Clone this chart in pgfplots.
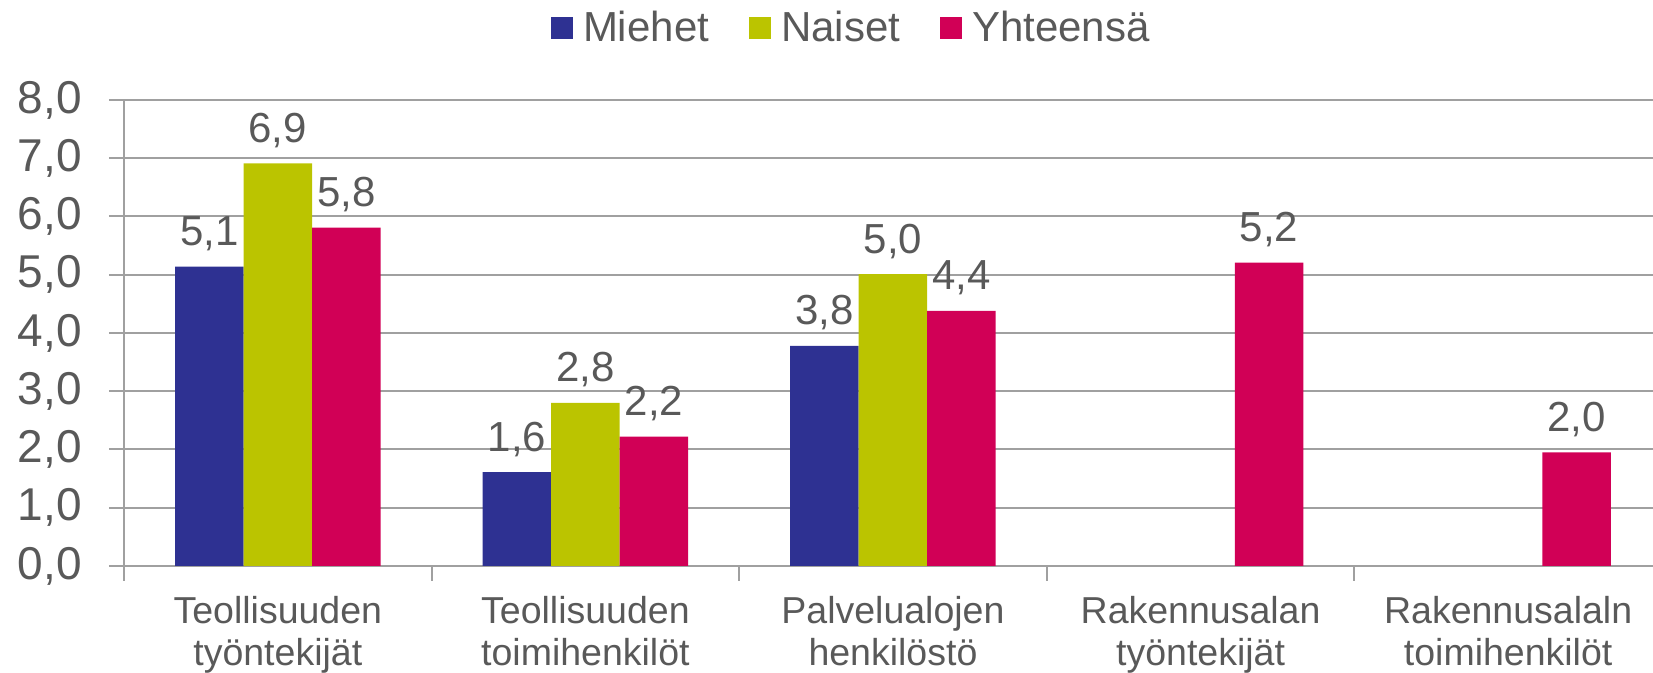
\documentclass[border=0pt]{standalone}
\usepackage{pgfplots}
\pgfplotsset{compat=1.18}
\usepackage{fontspec}
\setmainfont{Liberation Sans}
\usetikzlibrary{calc}
\definecolor{cM}{RGB}{46,49,146}
\definecolor{cN}{RGB}{187,196,0}
\definecolor{cY}{RGB}{209,0,86}
\definecolor{txt}{RGB}{89,89,89}
\definecolor{axc}{RGB}{160,160,160}
\begin{document}
\begin{tikzpicture}
\begin{axis}[
  name=ax,
  scale only axis, width=764.5pt, height=233pt,
  ybar=0pt, bar width=34.25pt,
  xmin=-0.5, xmax=4.471, ymin=0, ymax=8,
  ytick={0,1,...,8},
  xtick={0,...,4},
  xticklabels={{Teollisuuden\\työntekijät},{Teollisuuden\\toimihenkilöt},{Palvelualojen\\henkilöstö},{Rakennusalan\\työntekijät},{Rakennusalaln\\toimihenkilöt}},
  minor xtick={-0.5,0.5,1.5,2.5,3.5},
  major x tick style={draw=none},
  major tick length=7.5pt, minor tick length=7.5pt,
  tick align=outside,
  axis x line*=bottom, axis y line*=left,
  ymajorgrids, grid style={axc, line width=1pt},
  axis line style={axc, line width=1pt},
  tick style={axc, line width=1pt},
  /pgf/number format/fixed, /pgf/number format/fixed zerofill,
  /pgf/number format/precision=1, /pgf/number format/use comma,
  /pgf/number format/assume math mode=true,
  yticklabel style={font=\fontsize{23}{27}\selectfont, text=txt, inner sep=0pt, anchor=east, xshift=-13.5pt},
  xticklabel style={font=\fontsize{18.75}{21}\selectfont, text=txt, align=center, inner sep=0pt, anchor=north, yshift=-7.3pt},
  nodes near coords,
  nodes near coords style={font=\fontsize{21}{25}\selectfont, text=txt, anchor=base, inner sep=0pt, yshift=10.5pt},
  every axis plot post/.append style={draw=none, legend image code/.code={\fill[##1] (0pt,-5.5pt) rectangle (11pt,5.5pt);}},
  legend columns=-1,
  legend style={at={(axis description cs:0.279,1.1545)}, anchor=west, draw=none, fill=none, inner sep=0pt,
    font=\fontsize{21}{25}\selectfont, text=txt, nodes={inner sep=0pt},
    /tikz/every odd column/.append style={column sep=5pt},
    /tikz/every even column/.append style={column sep=20pt}},
]
\addplot[fill=cM] coordinates {(0,5.14) (1,1.61) (2,3.78)};
\addlegendentry{Miehet}
\addplot[fill=cN] coordinates {(0,6.91) (1,2.80) (2,5.01)};
\addlegendentry{Naiset}
\addplot[fill=cY] coordinates {(0,5.81) (1,2.22) (2,4.38) (3,5.21) (4,1.95)};
\addlegendentry{Yhteensä}
\end{axis}
\pgfresetboundingbox
\path ($(ax.south west)+(-62pt,-53.5pt)$) rectangle ($(ax.north east)+(0pt,50pt)$);
\end{tikzpicture}
\end{document}
